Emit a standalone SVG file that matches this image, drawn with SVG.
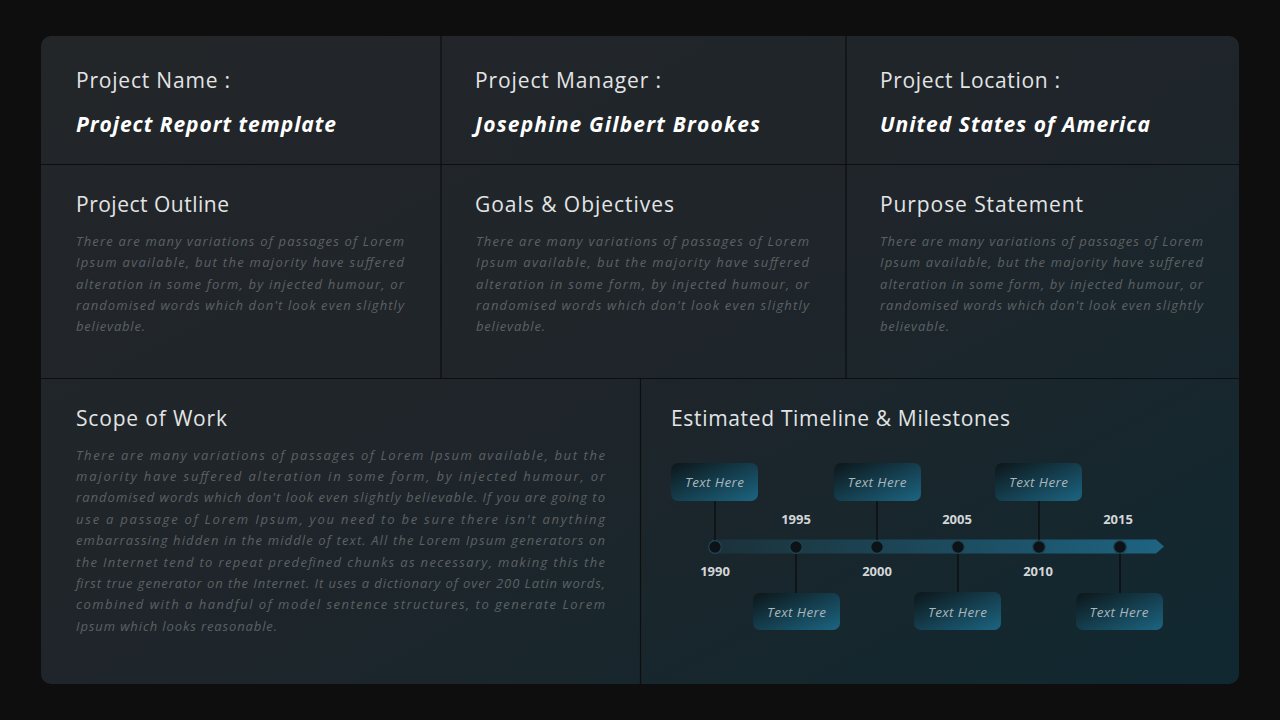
<svg xmlns="http://www.w3.org/2000/svg" width="1280" height="720" viewBox="0 0 1280 720">
<defs>
<linearGradient id="panel" x1="0" y1="0" x2="1" y2="1">
<stop offset="0" stop-color="#232629"/>
<stop offset="0.5" stop-color="#1f252a"/>
<stop offset="1" stop-color="#102830"/>
</linearGradient>
<linearGradient id="box" x1="0" y1="0" x2="1" y2="1">
<stop offset="0" stop-color="#0d1619"/>
<stop offset="1" stop-color="#1c6582"/>
</linearGradient>
<linearGradient id="bar" x1="0" y1="0" x2="1" y2="0">
<stop offset="0" stop-color="#1b3139"/>
<stop offset="1" stop-color="#1e6482"/>
</linearGradient>
<style>
.lbl{font-family:"Open Sans","Liberation Sans",sans-serif;font-size:21px;fill:#e2e4e5}
.val{font-family:"Open Sans","Liberation Sans",sans-serif;font-size:21px;font-weight:bold;font-style:italic;fill:#ffffff}
.body{font-family:"Open Sans","Liberation Sans",sans-serif;font-size:13px;font-style:italic;fill:#5c6165}
.grid{stroke:#0c0e0f;stroke-width:1.2}
.conn{stroke:#0a0c0d;stroke-width:1.3}
.dot{fill:#0c1215;stroke:#1f4656;stroke-width:1.2}
.bt{font-family:"Open Sans","Liberation Sans",sans-serif;font-size:13.5px;font-style:italic;fill:#a9b6bc;text-anchor:middle}
.yr{font-family:"Open Sans","Liberation Sans",sans-serif;font-size:13px;font-weight:bold;fill:#d3d6d8;text-anchor:middle}
</style>
</defs>
<rect x="0" y="0" width="1280" height="720" fill="#0e0e0e"/>
<rect id="panel-bg" x="41" y="36" width="1198" height="648" rx="10" fill="url(#panel)"/>
<g id="grid">
<line class="grid" x1="41" y1="164.5" x2="1239" y2="164.5"/>
<line class="grid" x1="41" y1="378.5" x2="1239" y2="378.5"/>
<line class="grid" x1="441" y1="36" x2="441" y2="378"/>
<line class="grid" x1="846" y1="36" x2="846" y2="378"/>
<line class="grid" x1="640.5" y1="378" x2="640.5" y2="684"/>
</g>
<g id="name">
<text class="lbl" x="76" y="88" textLength="154">Project Name :</text>
<text class="val" x="76" y="132" textLength="260">Project Report template</text>
</g>
<g id="manager">
<text class="lbl" x="475" y="88" textLength="186">Project Manager :</text>
<text class="val" x="475" y="132" textLength="285">Josephine Gilbert Brookes</text>
</g>
<g id="location">
<text class="lbl" x="880" y="88" textLength="180">Project Location :</text>
<text class="val" x="880" y="132" textLength="270">United States of America</text>
</g>
<g id="outline">
<text class="lbl" x="76" y="212" textLength="153">Project Outline</text>
<text class="body" x="76" y="246" textLength="328" lengthAdjust="spacing">There are many variations of passages of Lorem</text>
<text class="body" x="76" y="267" textLength="328" lengthAdjust="spacing">Ipsum available, but the majority have suffered</text>
<text class="body" x="76" y="289" textLength="328" lengthAdjust="spacing">alteration in some form, by injected humour, or</text>
<text class="body" x="76" y="310" textLength="328" lengthAdjust="spacing">randomised words which don't look even slightly</text>
<text class="body" x="76" y="331" textLength="69">believable.</text>
</g>
<g id="goals">
<text class="lbl" x="475" y="212" textLength="199">Goals &amp; Objectives</text>
<text class="body" x="476" y="246" textLength="333" lengthAdjust="spacing">There are many variations of passages of Lorem</text>
<text class="body" x="476" y="267" textLength="333" lengthAdjust="spacing">Ipsum available, but the majority have suffered</text>
<text class="body" x="476" y="289" textLength="333" lengthAdjust="spacing">alteration in some form, by injected humour, or</text>
<text class="body" x="476" y="310" textLength="333" lengthAdjust="spacing">randomised words which don't look even slightly</text>
<text class="body" x="476" y="331" textLength="69">believable.</text>
</g>
<g id="purpose">
<text class="lbl" x="880" y="212" textLength="203">Purpose Statement</text>
<text class="body" x="880" y="246" textLength="323" lengthAdjust="spacing">There are many variations of passages of Lorem</text>
<text class="body" x="880" y="267" textLength="323" lengthAdjust="spacing">Ipsum available, but the majority have suffered</text>
<text class="body" x="880" y="289" textLength="323" lengthAdjust="spacing">alteration in some form, by injected humour, or</text>
<text class="body" x="880" y="310" textLength="323" lengthAdjust="spacing">randomised words which don't look even slightly</text>
<text class="body" x="880" y="331" textLength="69">believable.</text>
</g>
<g id="scope">
<text class="lbl" x="76" y="426" textLength="151">Scope of Work</text>
<text class="body" x="76" y="460" textLength="529" lengthAdjust="spacing">There are many variations of passages of Lorem Ipsum available, but the</text>
<text class="body" x="76" y="481" textLength="529" lengthAdjust="spacing">majority have suffered alteration in some form, by injected humour, or</text>
<text class="body" x="76" y="502" textLength="529" lengthAdjust="spacing">randomised words which don't look even slightly believable. If you are going to</text>
<text class="body" x="76" y="524" textLength="529" lengthAdjust="spacing">use a passage of Lorem Ipsum, you need to be sure there isn't anything</text>
<text class="body" x="76" y="545" textLength="529" lengthAdjust="spacing">embarrassing hidden in the middle of text. All the Lorem Ipsum generators on</text>
<text class="body" x="76" y="567" textLength="529" lengthAdjust="spacing">the Internet tend to repeat predefined chunks as necessary, making this the</text>
<text class="body" x="76" y="588" textLength="529" lengthAdjust="spacing">first true generator on the Internet. It uses a dictionary of over 200 Latin words,</text>
<text class="body" x="76" y="609" textLength="529" lengthAdjust="spacing">combined with a handful of model sentence structures, to generate Lorem</text>
<text class="body" x="76" y="631" textLength="201">Ipsum which looks reasonable.</text>
</g>
<g id="timeline-title">
<text class="lbl" x="671" y="426" textLength="339">Estimated Timeline &amp; Milestones</text>
</g>
<g id="timeline-bar">
<path d="M712 539.5 H1156 L1164 546.5 L1156 553.5 H712 Z" fill="url(#bar)"/>
</g>
<g id="connectors">
<line class="conn" x1="715" y1="501" x2="715" y2="541"/>
<line class="conn" x1="877" y1="501" x2="877" y2="541"/>
<line class="conn" x1="1039" y1="501" x2="1039" y2="541"/>
<line class="conn" x1="796" y1="553" x2="796" y2="593"/>
<line class="conn" x1="958" y1="553" x2="958" y2="593"/>
<line class="conn" x1="1120" y1="553" x2="1120" y2="593"/>
</g>
<g id="m1990">
<circle class="dot" cx="715" cy="547" r="6.3"/>
<rect x="671" y="463" width="87" height="38" rx="7" fill="url(#box)"/>
<text class="bt" x="714.5" y="487" textLength="59">Text Here</text>
<text class="yr" x="715" y="576">1990</text>
</g>
<g id="m1995">
<circle class="dot" cx="796" cy="547" r="6.3"/>
<rect x="753" y="593" width="87" height="37" rx="7" fill="url(#box)"/>
<text class="bt" x="796.5" y="617" textLength="59">Text Here</text>
<text class="yr" x="796" y="524">1995</text>
</g>
<g id="m2000">
<circle class="dot" cx="877" cy="547" r="6.3"/>
<rect x="834" y="463" width="87" height="38" rx="7" fill="url(#box)"/>
<text class="bt" x="877" y="487" textLength="59">Text Here</text>
<text class="yr" x="877" y="576">2000</text>
</g>
<g id="m2005">
<circle class="dot" cx="958" cy="547" r="6.3"/>
<rect x="914" y="592" width="87" height="38" rx="7" fill="url(#box)"/>
<text class="bt" x="957.5" y="617" textLength="59">Text Here</text>
<text class="yr" x="957" y="524">2005</text>
</g>
<g id="m2010">
<circle class="dot" cx="1039" cy="547" r="6.3"/>
<rect x="995" y="463" width="87" height="38" rx="7" fill="url(#box)"/>
<text class="bt" x="1038.5" y="487" textLength="59">Text Here</text>
<text class="yr" x="1038" y="576">2010</text>
</g>
<g id="m2015">
<circle class="dot" cx="1120" cy="547" r="6.3"/>
<rect x="1076" y="593" width="87" height="37" rx="7" fill="url(#box)"/>
<text class="bt" x="1119" y="617" textLength="59">Text Here</text>
<text class="yr" x="1118" y="524">2015</text>
</g>
</svg>
